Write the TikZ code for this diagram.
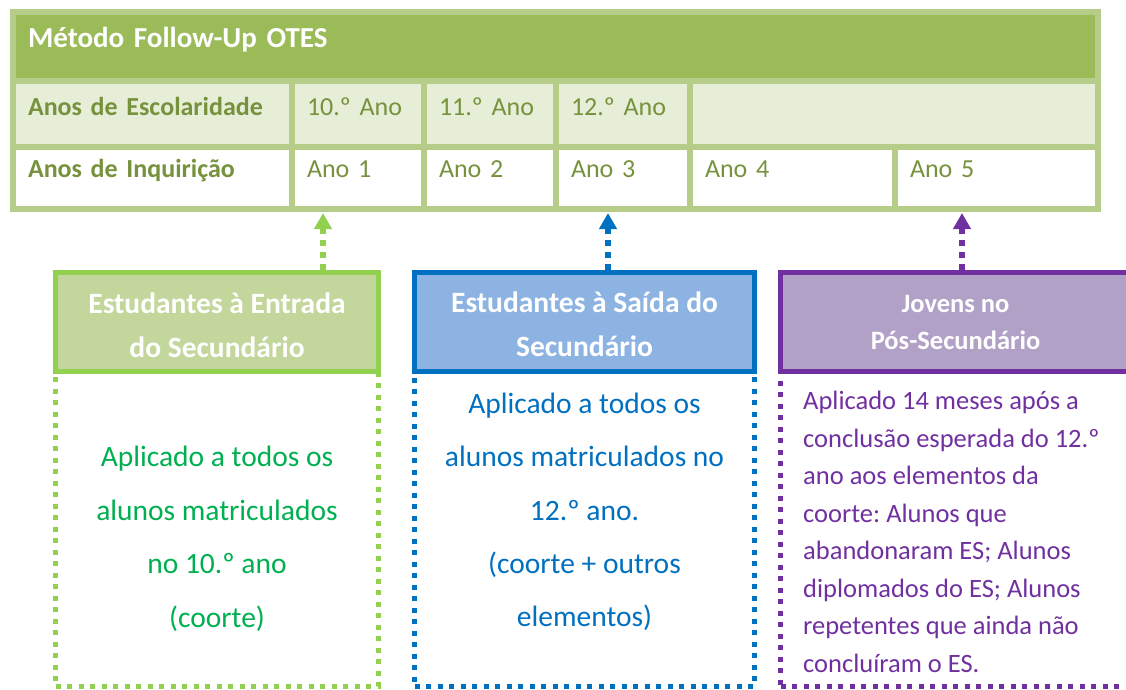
\documentclass[tikz,border=0pt]{standalone}
\usepackage{fontspec}
\setmainfont{Carlito}
\usetikzlibrary{arrows.meta, positioning}
\frenchspacing

\definecolor{moldura}{HTML}{B5CD88}
\definecolor{cabeca}{HTML}{9BBB59}
\definecolor{linhaclara}{HTML}{E6EED8}
\definecolor{oliva}{HTML}{76923C}
\definecolor{verde}{HTML}{92D050}
\definecolor{verdefundo}{HTML}{C3D69B}
\definecolor{verdetexto}{HTML}{00B050}
\definecolor{azul}{HTML}{0070C0}
\definecolor{azulfundo}{HTML}{8DB3E2}
\definecolor{roxo}{HTML}{7030A0}
\definecolor{roxofundo}{HTML}{B2A1C7}

\tikzset{
  celula/.style={rectangle, inner xsep=12pt, inner ysep=0pt, outer sep=0pt, text depth=29pt, align=left, text=oliva, font=\fontsize{26}{30}\selectfont},
  rotulo/.style={font=\bfseries\fontsize{26}{30}\selectfont},
  alto/.style={text height=31pt, fill=linhaclara},
  baixo/.style={text height=27pt, fill=white},
  caixa/.style={rectangle, line width=5pt, minimum height=99pt},
  titulo/.style={inner sep=0pt, text=white, align=center, font=\bfseries\fontsize{29.5}{44}\selectfont},
  corpo/.style={rectangle, line width=5pt, dash pattern=on 5pt off 6.5pt, minimum height=314.5pt},
  seta/.style={-{Triangle[width=17pt,length=16pt]}, line width=5.5pt, dash pattern=on 6pt off 6pt},
  texto/.style={inner sep=0pt, anchor=north, align=center, font=\fontsize{29.5}{53.5}\selectfont}
}

\begin{document}
\begin{tikzpicture}[x=1pt, y=-1pt]
  \useasboundingbox (0,0) rectangle (1126,689);
  \clip (0,0) rectangle (1126,689);

  % tabela
  \node[fill=moldura, inner sep=0pt, minimum width=1091pt, minimum height=203pt, anchor=north west] (tabela) at (10,9) {};
  \node[celula, fill=cabeca, text=white, font=\bfseries\fontsize{29}{33}\selectfont, text height=32pt, text depth=31pt, text width=1055pt, anchor=north west] (metodo) at (16,15) {Método Follow-Up OTES};

  \node[celula, alto, rotulo, text width=249pt, anchor=north west] (escolaridade) at (16,84) {Anos de Escolaridade};
  \node[celula, alto, text width=102pt, right=6pt of escolaridade] (ano10) {10.º Ano};
  \node[celula, alto, text width=102pt, right=6pt of ano10] (ano11) {11.º Ano};
  \node[celula, alto, text width=104pt, right=6pt of ano11] (ano12) {12.º Ano};
  \node[celula, alto, text width=378pt, right=6pt of ano12] (vazio) {};

  \node[celula, baixo, rotulo, text width=249pt, anchor=north west] (inquiricao) at (16,150) {Anos de Inquirição};
  \node[celula, baixo, text width=102pt, right=6pt of inquiricao] (ano1) {Ano 1};
  \node[celula, baixo, text width=102pt, right=6pt of ano1] (ano2) {Ano 2};
  \node[celula, baixo, text width=104pt, right=6pt of ano2] (ano3) {Ano 3};
  \node[celula, baixo, text width=175pt, right=6pt of ano3] (ano4) {Ano 4};
  \node[celula, baixo, text width=173pt, right=6pt of ano4] (ano5) {Ano 5};

  % caixas
  \node[caixa, draw=verde, fill=verdefundo, minimum width=323pt] (entrada) at (217,322) {};
  \node[caixa, draw=azul, fill=azulfundo, minimum width=340pt] (saida) at (584.5,322) {};
  \node[caixa, draw=roxo, fill=roxofundo, minimum width=350pt] (jovens) at (955.5,322) {};

  \node[titulo] (entradatitulo) at ([yshift=-3pt]entrada.center) {Estudantes à Entrada\\do Secundário};
  \node[titulo] (saidatitulo) at ([yshift=-2.5pt]saida.center) {Estudantes à Saída do\\Secundário};
  \node[titulo, font=\bfseries\fontsize{26.5}{37}\selectfont] (jovenstitulo) at (jovens.center) {Jovens no\\Pós-Secundário};

  \node[corpo, draw=verde, minimum width=323pt, below=-5pt of entrada] (entradacorpo) {};
  \node[corpo, draw=azul, minimum width=340pt, below=-5pt of saida] (saidacorpo) {};
  \node[corpo, draw=roxo, minimum width=350pt, below=-5pt of jovens] (jovenscorpo) {};

  \node[texto, text=verdetexto] (entradatexto) at (217,446) {Aplicado a todos os\\alunos matriculados\\no 10.º ano\\(coorte)};
  \node[texto, text=azul, font=\fontsize{29.5}{53.3}\selectfont] (saidatexto) at (584.5,393) {Aplicado a todos os\\alunos matriculados no\\12.º ano.\\(coorte + outros\\elementos)};
  \node[texto, text=roxo, anchor=north west, align=left, font=\fontsize{26.5}{37.5}\selectfont] (jovenstexto) at (803,391) {Aplicado 14 meses após a\\conclusão esperada do 12.º\\ano aos elementos da\\coorte: Alunos que\\abandonaram ES; Alunos\\diplomados do ES; Alunos\\repetentes que ainda não\\concluíram o ES.};

  % setas
  \coordinate (alvo1) at (323,213);
  \coordinate (alvo3) at (608,213);
  \coordinate (alvo5) at (962,213);
  \draw[seta, verde] (entrada.north -| alvo1) -- (alvo1);
  \draw[seta, azul] (saida.north -| alvo3) -- (alvo3);
  \draw[seta, roxo] (jovens.north -| alvo5) -- (alvo5);
\end{tikzpicture}
\end{document}
